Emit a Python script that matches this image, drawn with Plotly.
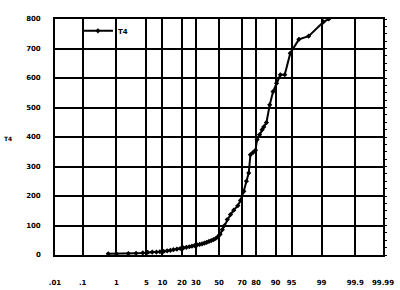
import plotly.graph_objects as go
from statistics import NormalDist

# Cumulative probability (%) and T4 values
pct = [0.6, 1.0, 2.0, 3.0, 4.2, 5.3, 6.5, 7.8, 9.0, 10.5, 12.0, 13.5, 15.0, 17.0,
       19.0, 21.0, 23.0, 25.0, 27.0, 29.0, 31.0, 33.0, 35.0, 37.0, 39.0, 41.0,
       43.0, 45.0, 47.0, 49.0, 51.0, 53.0, 55.0, 57.4, 60.3, 63.1, 66.5, 68.7,
       71.3, 73.3, 75.0, 76.2, 78.1, 79.6, 80.6, 82.1, 83.6, 84.5, 85.9, 87.5,
       89.0, 90.4, 91.8, 93.2, 94.7, 96.5, 97.9, 99.1, 99.36]
t4 = [4, 4, 5, 6, 7, 9, 10, 10, 11, 12, 14, 16, 18, 20,
      22, 24, 26, 28, 30, 32, 34, 36, 38, 40, 43, 46,
      49, 52, 56, 62, 70, 86, 100, 120, 137, 152, 167, 185,
      216, 250, 278, 340, 348, 355, 391, 408, 425, 434, 449, 509,
      554, 582, 611, 611, 684, 731, 742, 790, 800]

tick_pct = [0.01, 0.1, 1, 5, 10, 20, 30, 50, 70, 80, 90, 95, 99, 99.9, 99.99]
tick_text = [".01", ".1", "1", "5", "10", "20", "30", "50", "70", "80", "90", "95", "99", "99.9", "99.99"]
y_ticks = [0, 100, 200, 300, 400, 500, 600, 700, 800]

nd = NormalDist()
z = [nd.inv_cdf(p / 100) for p in pct]
tick_z = [nd.inv_cdf(p / 100) for p in tick_pct]

tfont = dict(family="DejaVu Sans", size=7, color="black")

fig = go.Figure()
fig.add_trace(go.Scatter(
    x=z, y=t4, mode="lines+markers", name="<b>T4</b>",
    line=dict(color="black", width=2),
    marker=dict(symbol="diamond", size=4, color="black"),
    cliponaxis=True,
))
# right-side minor ticks
fig.add_trace(go.Scatter(x=[None], y=[None], yaxis="y2", showlegend=False))

fig.update_layout(
    width=400, height=290,
    margin=dict(l=55, r=17, t=19, b=35),
    paper_bgcolor="white", plot_bgcolor="white",
    font=tfont,
    showlegend=True,
    legend=dict(x=0.07, y=0.95, xanchor="left", yanchor="middle",
                bgcolor="rgba(0,0,0,0)", font=tfont,
                itemwidth=30, tracegroupgap=0),
    xaxis=dict(
        range=[tick_z[0], tick_z[-1]],
        tickvals=tick_z, ticktext=["<b>%s</b>" % t for t in tick_text],
        showgrid=True, gridcolor="black", gridwidth=1.7,
        zeroline=False, showline=True, linecolor="black", linewidth=1.7,
        mirror=True, ticks="", ticklabelstandoff=20, automargin=False,
        tickfont=tfont,
    ),
    yaxis=dict(
        range=[0, 800], tickvals=y_ticks,
        ticktext=["<b>%d</b>" % v for v in y_ticks],
        showgrid=True, gridcolor="black", gridwidth=1.7,
        zeroline=False, showline=True, linecolor="black", linewidth=1.7,
        mirror=True, ticks="", ticklabelstandoff=11, automargin=False,
        tickfont=tfont,
    ),
    yaxis2=dict(
        overlaying="y", side="right", range=[0, 800],
        tickvals=list(range(0, 801, 25)), ticktext=[""] * 33,
        ticks="outside", ticklen=3, tickcolor="black", tickwidth=1,
        showgrid=False, zeroline=False, showline=False, automargin=False,
    ),
    annotations=[dict(text="<b>T4</b>", x=8, y=138, xref="paper", yref="paper",
                      showarrow=False, font=dict(family="DejaVu Sans", size=6, color="black"))],
)
# convert annotation pixel position to paper coordinates
pw, ph = 400 - 55 - 17, 290 - 19 - 35
fig.layout.annotations[0].x = (8 - 55) / pw
fig.layout.annotations[0].y = 1 - (138 - 19) / ph
fig.layout.annotations[0].xanchor = "center"

fig.write_html("out.html")
